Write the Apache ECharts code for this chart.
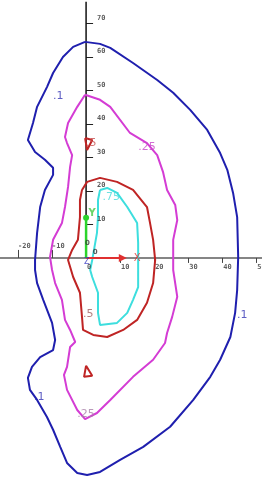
<!DOCTYPE html>
<html>
<head>
<meta charset="utf-8">
<script src="https://cdn.jsdelivr.net/npm/echarts@6/dist/echarts.min.js"></script>
<style>
html, body { margin: 0; padding: 0; background: #fff; }
#chart { width: 262px; height: 479px; }
</style>
</head>
<body>
<div id="chart"></div>
<script>
// contour levels, each a closed loop of [x, y] points in axis units
const levelNames = ['.1', '.25', '.5', '.75'];

const contour10 = [[-0.3,64.5],[4.1,63.9],[7.1,62.7],[13.8,58.2],[20.9,53.1],[25.6,49.3],[30.6,44.2],[35.6,38.2],[39.4,31.3],[41.5,26.3],[43.2,19.4],[44.4,12.2],[44.7,0.3],[44.4,-9.6],[43.8,-16.4],[42.4,-23.6],[39.4,-30.4],[36.5,-35.5],[31.5,-42.4],[24.7,-50.4],[16.8,-56.4],[10,-60.3],[4.1,-63.9],[0.3,-64.8],[-2.6,-64.2],[-5.6,-61.2],[-7.6,-56.4],[-9.7,-51.3],[-11.5,-47.5],[-14.4,-42.4],[-16.5,-39.4],[-17.1,-35.8],[-15.9,-32.5],[-13.5,-29.6],[-9.7,-27.5],[-9.1,-24.5],[-10,-19.4],[-12.6,-12.5],[-14.4,-7.5],[-15,-3.6],[-15,-0.6],[-14.4,7.5],[-13.5,15.2],[-12.1,20.3],[-9.7,24.8],[-9.7,26.9],[-12.1,29.3],[-15,31.6],[-17.1,35.2],[-15.6,40.3],[-14.4,45.1],[-11.5,51],[-9.7,55.2],[-6.8,60],[-3.8,63],[-0.3,64.5]];

const contour25 = [[-0.3,48.7],[4.1,47.2],[7.1,45.1],[12.9,37.3],[17.9,34.3],[20.9,30.7],[22.6,25.7],[23.8,20.3],[26.2,15.8],[26.8,11.3],[25.6,5.4],[25.6,-3.6],[26.8,-11.6],[25.3,-17.6],[23.8,-22.4],[23.2,-25.4],[19.7,-30.4],[13.8,-35.5],[7.1,-42.4],[3.2,-46.3],[-0.3,-48.1],[-2.6,-45.4],[-5.6,-39.4],[-6.2,-36.4],[-6.5,-34.9],[-5.6,-32.5],[-4.7,-26.6],[-3.2,-25.1],[-4.7,-21.5],[-6.2,-18.5],[-7.1,-12.5],[-9.1,-7.5],[-10,-3.6],[-10.6,0.3],[-9.7,5.4],[-7.1,10.4],[-6.2,15.2],[-5.3,21.2],[-4.7,27.2],[-4.1,30.7],[-5.6,34.3],[-6.2,36.1],[-5.3,40.3],[-2.6,45.1],[-0.3,48.7]];

const contour50 = [[-1.2,20.3],[0.3,22.7],[4.1,23.9],[9.1,22.7],[13.8,20.3],[17.9,15.2],[18.8,10.4],[19.7,5.4],[20.3,-0.6],[19.7,-7.5],[17.9,-13.4],[15,-18.5],[10.9,-21.5],[6.2,-23.6],[2.1,-23],[-0.9,-21.5],[-1.2,-17.6],[-1.8,-10.4],[-3.8,-5.7],[-5.3,-0.6],[-4.1,2.4],[-2.4,5.4],[-1.8,12.2],[-1.8,17.3],[-1.2,20.3]];
const island50a = [[-0.3,35.8],[1.8,35.2],[0.3,32.2],[-0.3,35.8]];
const island50b = [[0,-32.2],[-0.6,-35.5],[1.8,-35.2],[0,-32.2]];

const contour75 = [[4.1,20.3],[6.2,20.9],[9.1,19.4],[12.1,15.2],[15,10.4],[15.3,4.5],[15.3,-3.6],[15.3,-8.7],[13.8,-12.5],[12.1,-16.4],[9.1,-19.4],[4.1,-20],[3.5,-16.4],[3.5,-10.4],[1.8,-5.7],[1.2,-3.6],[1.8,-0.6],[3.2,7.5],[3.5,12.2],[3.5,17.3],[4.1,20.3]];

// where each level's label sits
const tags10 = [[-8.2,48.4],[45.9,-17],[-13.8,-41.5]];
const tags25 = [[17.9,33.1]];
const tags25b = [[0,-46.6]];
const tags50 = [[1.5,34.3]];
const tags50b = [[0.6,-16.7]];
const tags75 = [[7.4,18.2]];

// axes
const xTicksBelow = [10, 20, 30, 40, 50];
const xLabelsBelow = [0, 10, 20, 30, 40, 50];
const xTicksAbove = [-20, -10];
const yTicks = [10, 20, 30, 40, 50, 60, 70];
const yAxisTop = 76.5;
const xArrowEnd = 10.8;
const yArrowEnd = 12;
const xMarker = [[15, 0]];
const yMarker = [[1.8, 13.4]];
const zMarker = [[0.2, -1.3]];
const zeroTags = [[0.4, 4.3], [2.7, 1.7]];

const BLUE = '#1f1fae', PINK = '#d43cd4', RED = '#bf2424', CYAN = '#3ddede';

const chart = echarts.init(document.getElementById('chart'));

function loop (data, color) {
    return {
        type: 'line', data, symbol: 'none', silent: true, z: 3,
        lineStyle: { color, width: 2 }
    };
}
function tags (data, text, color, size, weight) {
    return {
        type: 'scatter', data, symbolSize: 0, silent: true, z: 6,
        label: {
            show: true, position: 'inside', formatter: text, color,
            fontSize: size || 11, fontWeight: weight || 'normal', fontFamily: 'DejaVu Sans'
        }
    };
}
// tick labels: echarts keeps onZero axis labels at the grid edge, so they go here
function tickText (data, offset) {
    return {
        type: 'scatter', data, symbolSize: 0, silent: true, z: 6,
        label: {
            show: true, position: offset, formatter: p => p.data[2],
            color: '#333', fontSize: 7, fontWeight: 'bold', fontFamily: 'DejaVu Sans Mono'
        }
    };
}

chart.setOption({
    animation: false,
    backgroundColor: '#fff',
    grid: { left: 0, right: 0, top: 0, bottom: 0, containLabel: false, outerBoundsMode: 'none' },
    xAxis: [
        {
            type: 'value', min: -25.3, max: 51.7, position: 'bottom',
            splitLine: { show: false },
            axisLine: { show: true, onZero: true, lineStyle: { color: '#858585', width: 2 } },
            axisTick: { show: true, customValues: xTicksBelow, length: 5, lineStyle: { color: '#444' } },
            axisLabel: { show: false }
        },
        {
            type: 'value', min: -25.3, max: 51.7, position: 'top',
            splitLine: { show: false },
            axisLine: { show: false, onZero: true, onZeroAxisIndex: 1 },
            axisTick: { show: true, customValues: xTicksAbove, length: 8, lineStyle: { color: '#444' } },
            axisLabel: { show: false }
        }
    ],
    yAxis: [
        {
            type: 'value', min: -66, max: 77,
            splitLine: { show: false },
            axisLine: { show: false, onZero: true },
            axisTick: { show: true, inside: true, customValues: yTicks, length: 7, lineStyle: { color: '#222' } },
            axisLabel: { show: false }
        },
        { type: 'value', min: -66, max: 77, show: false }
    ],
    series: [
        // y axis upper half, drawn as a line
        {
            type: 'line', data: [[0, 0], [0, yAxisTop]], symbol: 'none', silent: true, z: 2,
            lineStyle: { color: '#111', width: 1.5 }
        },
        loop(contour10, BLUE),
        loop(contour25, PINK),
        loop(contour50, RED),
        loop(island50a, RED),
        loop(island50b, RED),
        loop(contour75, CYAN),
        // X arrow
        {
            type: 'line', silent: true, z: 4, symbolSize: 0, showSymbol: true,
            data: [[0, 0], { value: [xArrowEnd, 0], symbol: 'triangle', symbolSize: 8, symbolRotate: -90 }],
            itemStyle: { color: '#e03030' },
            lineStyle: { color: '#e03030', width: 2 }
        },
        // Y arrow
        {
            type: 'line', silent: true, z: 4, symbolSize: 0, showSymbol: true,
            data: [[0, 0], { value: [0, yArrowEnd], symbol: 'circle', symbolSize: 6 }],
            itemStyle: { color: '#2bd42b' },
            lineStyle: { color: '#2bd42b', width: 2.5 }
        },
        tickText(yTicks.map(v => [0, v, String(v)]), [11, -9]),
        tickText(xLabelsBelow.map(v => [v, 0, String(v)]), [1, 6]),
        tickText(xTicksAbove.map(v => [v, 0, String(v)]), [0, -15]),
        tags(tags10, levelNames[0], '#3434b4', 11),
        tags(tags25, levelNames[1], '#c848c8', 11),
        tags(tags25b, levelNames[1], '#a880a8', 11),
        tags(tags50, levelNames[2], '#c85050', 11),
        tags(tags50b, levelNames[2], '#a06060', 11),
        tags(tags75, levelNames[3], '#48dada', 11),
        tags(xMarker, 'X', '#e03030', 10),
        tags(yMarker, 'Y', '#44c844', 10, 'bold'),
        tags(zMarker, 'Z', '#3030c0', 8),
        tags(zeroTags, '0', '#333', 7, 'bold')
    ]
});
</script>
</body>
</html>
